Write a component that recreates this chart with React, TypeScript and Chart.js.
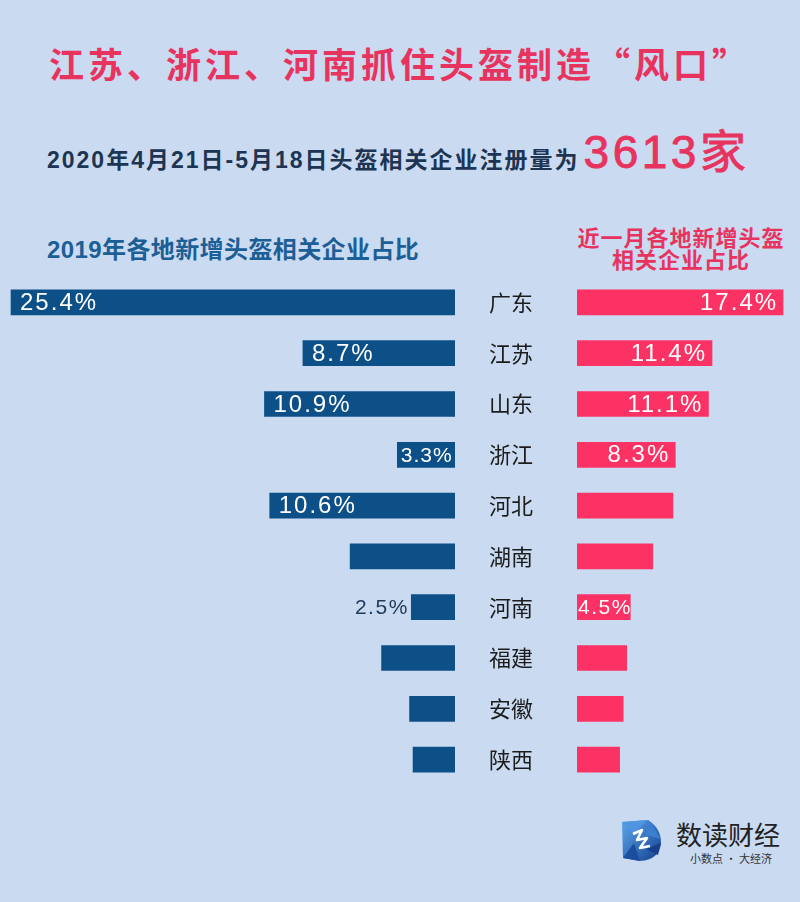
import React, { useEffect, useRef } from 'react';
import { Chart, registerables } from 'chart.js';

Chart.register(...registerables);

// ---- data ----
const provinces = ['广东', '江苏', '山东', '浙江', '河北', '湖南', '河南', '福建', '安徽', '陕西'];
const share2019 = [25.4, 8.7, 10.9, 3.3, 10.6, 6.0, 2.5, 4.2, 2.6, 2.4];
const shareRecent = [17.4, 11.4, 11.1, 8.3, 8.1, 6.4, 4.5, 4.2, 3.9, 3.6];
const labeled2019 = [true, true, true, true, true, false, true, false, false, false];
const labeledRecent = [true, true, true, true, false, false, true, false, false, false];

const BG = '#c9daf1';
const BLUE = '#0d4f87';
const PINK = '#fb3263';
const TITLE_PINK = '#e8335f';

type LabelStyle = { size: number; spacing: number; color: string; mode: string; pad: number };

function labelStyle(side: 'left' | 'right', i: number): LabelStyle {
  if (side === 'left') {
    if (i === 3) return { size: 21, spacing: 1, color: '#ffffff', mode: 'center', pad: 0 };
    if (i === 6) return { size: 21, spacing: 1.5, color: '#1d3a5c', mode: 'outside', pad: 4 };
    return { size: 24, spacing: 2, color: '#ffffff', mode: 'outerInside', pad: 9 };
  }
  if (i === 6) return { size: 21, spacing: 1.5, color: '#ffffff', mode: 'baseInside', pad: 1 };
  return { size: 24, spacing: 2, color: '#ffffff', mode: 'outerInside', pad: 7 };
}

function makeLabelPlugin(values: number[], shown: boolean[], side: 'left' | 'right') {
  return {
    id: 'valueLabels_' + side,
    afterDatasetsDraw(chart: any) {
      const ctx = chart.ctx as CanvasRenderingContext2D;
      const meta = chart.getDatasetMeta(0);
      meta.data.forEach((bar: any, i: number) => {
        if (!shown[i]) return;
        const st = labelStyle(side, i);
        const text = values[i].toFixed(1) + '%';
        ctx.save();
        ctx.font = `${st.size}px "Liberation Sans", Arial, sans-serif`;
        (ctx as any).letterSpacing = `${st.spacing}px`;
        ctx.fillStyle = st.color;
        ctx.textBaseline = 'middle';
        const outer = bar.x;
        const base = bar.base;
        const dir = outer < base ? -1 : 1;
        let x = outer;
        if (st.mode === 'outerInside') {
          ctx.textAlign = dir < 0 ? 'left' : 'right';
          x = outer - dir * st.pad + (dir > 0 ? st.spacing : 0);
        } else if (st.mode === 'center') {
          ctx.textAlign = 'center';
          x = (outer + base) / 2 + st.spacing / 2;
        } else if (st.mode === 'outside') {
          ctx.textAlign = dir < 0 ? 'right' : 'left';
          x = outer + dir * st.pad + (dir < 0 ? st.spacing : 0);
        } else if (st.mode === 'baseInside') {
          ctx.textAlign = dir > 0 ? 'left' : 'right';
          x = base + dir * st.pad;
        }
        ctx.fillText(text, x, bar.y + 1);
        ctx.restore();
      });
    },
  };
}

const CHART_TOP = 276.6;
const CHART_H = 508;
const RIGHT_LEFT = 489;
const RIGHT_AXIS_W = 88;

function App() {
  const leftRef = useRef<HTMLCanvasElement>(null);
  const rightRef = useRef<HTMLCanvasElement>(null);

  useEffect(() => {
    const left = new Chart(leftRef.current as HTMLCanvasElement, {
      type: 'bar',
      data: {
        labels: provinces,
        datasets: [{ data: share2019, backgroundColor: BLUE, borderWidth: 0, barThickness: 25 }],
      },
      options: {
        indexAxis: 'y',
        animation: false,
        responsive: false,
        layout: { padding: 0 },
        plugins: { legend: { display: false }, tooltip: { enabled: false } },
        scales: {
          x: { type: 'linear', reverse: true, min: 0, max: 26.03, display: false },
          y: { type: 'category', display: false, offset: true },
        },
      },
      plugins: [makeLabelPlugin(share2019, labeled2019, 'left')],
    } as any);

    const right = new Chart(rightRef.current as HTMLCanvasElement, {
      type: 'bar',
      data: {
        labels: provinces,
        datasets: [{ data: shareRecent, backgroundColor: PINK, borderWidth: 0, barThickness: 25 }],
      },
      options: {
        indexAxis: 'y',
        animation: false,
        responsive: false,
        layout: { padding: 0 },
        plugins: { legend: { display: false }, tooltip: { enabled: false } },
        scales: {
          x: { type: 'linear', min: 0, max: 18.83, display: false },
          y: {
            type: 'category',
            position: 'left',
            offset: true,
            afterFit: (scale: any) => {
              scale.width = RIGHT_AXIS_W;
              scale.paddingTop = 0;
              scale.paddingBottom = 0;
            },
            grid: { display: false, drawTicks: false },
            border: { display: false },
            ticks: {
              padding: 0,
              crossAlign: 'far',
              color: '#1c1c1c',
              font: { family: '"Noto Sans CJK SC", sans-serif', size: 22 },
            },
          },
        },
      },
      plugins: [makeLabelPlugin(shareRecent, labeledRecent, 'right')],
    } as any);

    return () => {
      left.destroy();
      right.destroy();
    };
  }, []);

  return (
    <div
      style={{
        position: 'absolute',
        left: 0,
        top: 0,
        width: 800,
        height: 902,
        background: BG,
        overflow: 'hidden',
        fontFamily: '"Noto Sans CJK SC", sans-serif',
      }}
    >
      <div
        style={{
          position: 'absolute',
          left: 0,
          top: 43,
          width: 800,
          textAlign: 'center',
          fontSize: 35,
          lineHeight: '40px',
          fontWeight: 'bold',
          letterSpacing: 4,
          color: TITLE_PINK,
          whiteSpace: 'nowrap',
        }}
      >
        江苏、浙江、河南抓住头盔制造“风口”
      </div>

      <div
        style={{
          position: 'absolute',
          left: 47,
          top: 129,
          lineHeight: 1,
          whiteSpace: 'nowrap',
          fontFamily: '"Liberation Sans", "Noto Sans CJK SC", sans-serif',
        }}
      >
        <span style={{ fontSize: 23, fontWeight: 'bold', color: '#1d3552', letterSpacing: 2 }}>
          2020年4月21日-5月18日头盔相关企业注册量为
        </span>
        <span
          style={{
            fontSize: 46,
            color: TITLE_PINK,
            letterSpacing: 3.5,
            marginLeft: 4,
            WebkitTextStroke: `0.9px ${TITLE_PINK}`,
          }}
        >
          3613家
        </span>
      </div>

      <div
        style={{
          position: 'absolute',
          left: 47,
          top: 238,
          lineHeight: 1,
          fontSize: 24,
          fontWeight: 'bold',
          color: '#1c5e96',
          whiteSpace: 'nowrap',
          letterSpacing: 0.4,
          fontFamily: '"Liberation Sans", "Noto Sans CJK SC", sans-serif',
        }}
      >
        2019年各地新增头盔相关企业占比
      </div>

      <div
        style={{
          position: 'absolute',
          left: 561,
          top: 225,
          width: 240,
          textAlign: 'center',
          fontSize: 22,
          lineHeight: '22px',
          fontWeight: 'bold',
          color: TITLE_PINK,
          letterSpacing: 1,
        }}
      >
        近一月各地新增头盔
        <br />
        相关企业占比
      </div>

      <canvas
        ref={leftRef}
        width={455}
        height={CHART_H}
        style={{ position: 'absolute', left: 0, top: CHART_TOP, width: 455, height: CHART_H }}
      />
      <canvas
        ref={rightRef}
        width={800 - RIGHT_LEFT}
        height={CHART_H}
        style={{
          position: 'absolute',
          left: RIGHT_LEFT,
          top: CHART_TOP,
          width: 800 - RIGHT_LEFT,
          height: CHART_H,
        }}
      />

      <svg width={42} height={43} viewBox="0 0 42 43" style={{ position: 'absolute', left: 620, top: 819 }}>
        <defs>
          <linearGradient id="lg" x1="0" y1="0" x2="1" y2="1">
            <stop offset="0" stopColor="#5fa8ec" />
            <stop offset="1" stopColor="#123f8f" />
          </linearGradient>
        </defs>
        <path d="M2 3 L28 1 Q41 9 41 24 Q39 41 20 42 L3 39 Z" fill="url(#lg)" />
        <polygon points="2,3 28,1 14,14" fill="#4f95e0" />
        <polygon points="3,39 14,24 20,42" fill="#1b4f9e" />
        <polygon points="28,1 41,20 26,16" fill="#3a7fd0" />
        <polygon points="26,30 41,24 38,36" fill="#173f8a" />
        <polyline
          points="13,15 22,11 17,21 27,19 20,29 30,27"
          fill="none"
          stroke="#ffffff"
          strokeWidth={2.6}
          strokeLinejoin="round"
        />
      </svg>
      <div
        style={{
          position: 'absolute',
          left: 676,
          top: 820,
          fontSize: 26,
          lineHeight: '28px',
          color: '#222',
          whiteSpace: 'nowrap',
        }}
      >
        数读财经
      </div>
      <div
        style={{
          position: 'absolute',
          left: 690,
          top: 851,
          fontSize: 11,
          lineHeight: '14px',
          color: '#333',
          whiteSpace: 'nowrap',
        }}
      >
        小数点 · 大经济
      </div>
    </div>
  );
}

export default App;
